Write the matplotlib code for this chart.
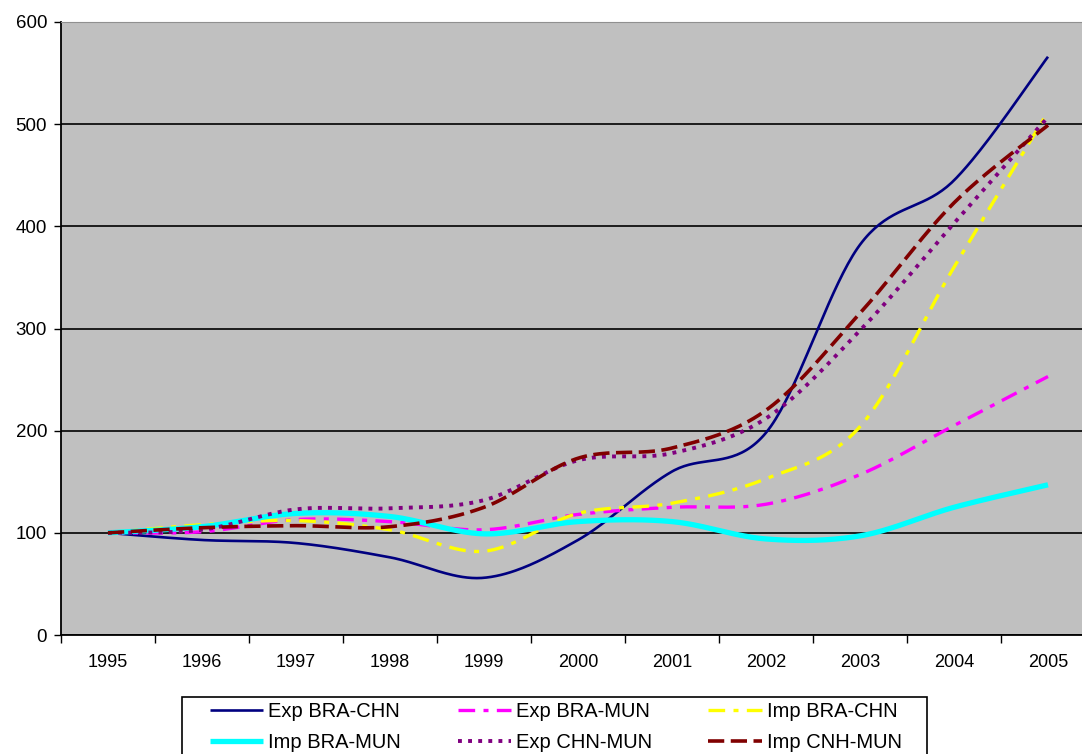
import numpy as np
import matplotlib
matplotlib.use('Agg')
import matplotlib.pyplot as plt
from matplotlib.patches import Rectangle

years = ['1995', '1996', '1997', '1998', '1999', '2000', '2001', '2002', '2003', '2004', '2005']

exp_bra_chn = [100, 93, 90, 76, 56, 93, 160, 198, 382, 445, 566]
exp_bra_mun = [100, 101, 113, 111, 103, 118, 125, 128, 157, 205, 253]
imp_bra_chn = [100, 108, 112, 103, 82, 119, 129, 153, 204, 360, 512]
imp_bra_mun = [100, 106, 119, 116, 99, 111, 111, 94, 97, 125, 147]
exp_chn_mun = [100, 103, 123, 124, 132, 171, 178, 212, 298, 403, 507]
imp_cnh_mun = [100, 105, 107, 106, 125, 173, 183, 220, 315, 423, 499]


def smooth(y, n=40):
    # bezier smoothing between points, control points from neighbours
    y = np.asarray(y, dtype=float)
    x = np.arange(len(y), dtype=float)
    px = np.concatenate(([x[0]], x, [x[-1]]))
    py = np.concatenate(([y[0]], y, [y[-1]]))
    t = np.linspace(0, 1, n)
    xs, ys = [], []
    for i in range(len(y) - 1):
        p0 = np.array([px[i], py[i]])
        p1 = np.array([px[i + 1], py[i + 1]])
        p2 = np.array([px[i + 2], py[i + 2]])
        p3 = np.array([px[i + 3], py[i + 3]])
        c1 = p1 + (p2 - p0) / 6.0
        c2 = p2 - (p3 - p1) / 6.0
        b = ((1 - t) ** 3)[:, None] * p1 + (3 * (1 - t) ** 2 * t)[:, None] * c1 \
            + (3 * (1 - t) * t ** 2)[:, None] * c2 + (t ** 3)[:, None] * p2
        if i > 0:
            b = b[1:]
        xs.append(b[:, 0])
        ys.append(b[:, 1])
    return np.concatenate(xs), np.concatenate(ys)


series = [
    (exp_bra_chn, 'Exp BRA-CHN', dict(color='#000080', lw=1.9, linestyle='-')),
    (exp_bra_mun, 'Exp BRA-MUN', dict(color='#FF00FF', lw=2.4, linestyle=(0, (5, 2.5, 1.5, 2.5)))),
    (imp_bra_chn, 'Imp BRA-CHN', dict(color='#FFFF00', lw=2.4, linestyle=(0, (5, 2.5, 1.5, 2.5)))),
    (imp_bra_mun, 'Imp BRA-MUN', dict(color='#00FFFF', lw=3.8, linestyle='-')),
    (exp_chn_mun, 'Exp CHN-MUN', dict(color='#800080', lw=2.8, linestyle=(0, (1, 1.6)))),
    (imp_cnh_mun, 'Imp CNH-MUN', dict(color='#800000', lw=2.6, linestyle=(0, (4.5, 1.8)))),
]

W, H = 1082, 754
fig = plt.figure(figsize=(W / 100, H / 100), dpi=100)
ax = fig.add_axes([61 / W, 1 - 635 / H, (1095 - 61) / W, (635 - 22) / H])
ax.set_facecolor('#C0C0C0')

lines = []
for vals, name, style in series:
    sx, sy = smooth(vals)
    ln, = ax.plot(sx, sy, label=name, solid_capstyle='butt', dash_capstyle='butt', **style)
    lines.append(ln)

ax.set_xlim(-0.5, len(years) - 0.5)
ax.set_ylim(0, 600)
ax.set_yticks(np.arange(0, 601, 100))
ax.yaxis.grid(True, color='black', lw=1.2)
ax.set_axisbelow(True)

ax.set_xticks(np.arange(-0.5, len(years), 1.0))
ax.set_xticklabels([])
ax.set_xticks(np.arange(len(years)), minor=True)
ax.set_xticklabels(years, minor=True, family='Liberation Sans', fontsize=13)
ax.tick_params(axis='x', which='major', length=6, width=1, direction='out')
ax.tick_params(axis='x', which='minor', length=0, pad=14)
ax.tick_params(axis='y', length=5, width=1, direction='out', labelsize=13.5, pad=5)
for lab in ax.get_yticklabels():
    lab.set_family('Liberation Sans')

for side in ['left', 'bottom']:
    ax.spines[side].set_color('black')
    ax.spines[side].set_linewidth(1.3)
ax.spines['top'].set_color('#909090')
ax.spines['right'].set_visible(False)

# legend box, runs off the bottom of the figure
fig.patches.append(Rectangle((182 / W, -0.05), (927 - 182) / W, 0.05 + (H - 697) / H,
                             transform=fig.transFigure, fill=False,
                             edgecolor='black', lw=1.2))

# row-major order for the 3-column legend
order = [0, 3, 1, 4, 2, 5]
leg = fig.legend([lines[i] for i in order], [series[i][1] for i in order],
                 loc='upper left', bbox_to_anchor=(210 / W, 1 - 702 / H), ncol=3,
                 prop={'family': 'Liberation Sans', 'size': 14.5},
                 handlelength=2.65, handletextpad=0.25, columnspacing=2.8,
                 labelspacing=0.62, borderpad=0, borderaxespad=0, frameon=False)

fig.savefig('out.png', dpi=100)
